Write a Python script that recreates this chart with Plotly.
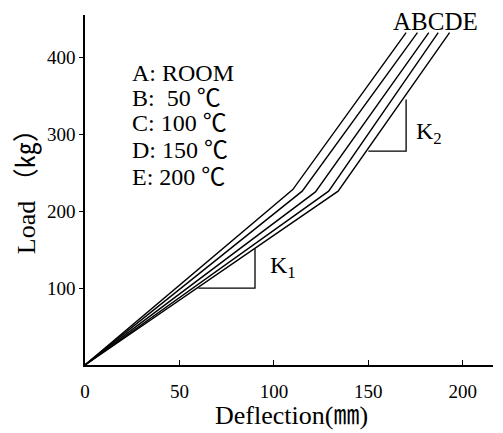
import plotly.graph_objects as go

# Data: origin -> knee -> end for each temperature
series_names = ["A", "B", "C", "D", "E"]
knee_x = [110, 115, 122, 129, 134]
knee_y = [228, 226, 225, 226, 226]
end_x = [170, 176, 182, 187, 193]
end_y = [432, 432, 432, 432, 432]

legend_lines = ["A: ROOM", "B:  50 ℃", "C: 100 ℃", "D: 150 ℃", "E: 200 ℃"]
legend_y = [380, 347, 314, 280, 245]

x_ticks = [0, 50, 100, 150, 200]
y_ticks = [100, 200, 300, 400]

# slope triangles
k1_x = [60, 90, 90]
k1_y = [100, 100, 151]
k2_x = [150, 170, 170]
k2_y = [278, 278, 345]

FONT = "'Liberation Serif', 'Times New Roman', 'Noto Sans CJK JP', serif"

fig = go.Figure()
for name, kx, ky, ex, ey in zip(series_names, knee_x, knee_y, end_x, end_y):
    fig.add_trace(go.Scatter(x=[0, kx, ex], y=[0, ky, ey], mode="lines",
                             line=dict(color="black", width=1.4),
                             name=name, showlegend=False, hoverinfo="skip"))
for tx, ty in ((k1_x, k1_y), (k2_x, k2_y)):
    fig.add_trace(go.Scatter(x=tx, y=ty, mode="lines",
                             line=dict(color="black", width=1.3),
                             showlegend=False, hoverinfo="skip"))

annotations = []
for txt, yy in zip(legend_lines, legend_y):
    annotations.append(dict(x=24, y=yy, xref="x", yref="y", text=txt,
                            showarrow=False, xanchor="left", yanchor="middle",
                            font=dict(family=FONT, size=24, color="black")))
annotations.append(dict(x=185.5, y=447, xref="x", yref="y", text="".join(series_names),
                        showarrow=False, xanchor="center", yanchor="middle",
                        font=dict(family=FONT, size=25, color="black")))
annotations.append(dict(x=97, y=128, xref="x", yref="y", text="K<sub>1</sub>",
                        showarrow=False, xanchor="left", yanchor="middle",
                        font=dict(family=FONT, size=24, color="black")))
annotations.append(dict(x=174, y=302, xref="x", yref="y", text="K<sub>2</sub>",
                        showarrow=False, xanchor="left", yanchor="middle",
                        font=dict(family=FONT, size=24, color="black")))
# axis titles
annotations.append(dict(x=0.507, y=-0.191, xref="paper", yref="paper",
                        text="Deflection(㎜)", showarrow=False,
                        xanchor="center", yanchor="bottom",
                        font=dict(family=FONT, size=26, color="black")))
annotations.append(dict(x=-0.142, y=0.514, xref="paper", yref="paper",
                        text="Load （㎏）", showarrow=False, textangle=-90,
                        xanchor="center", yanchor="middle",
                        font=dict(family=FONT, size=26, color="black")))

fig.update_layout(
    width=503, height=433,
    margin=dict(l=85, r=10, t=15, b=68),
    paper_bgcolor="white", plot_bgcolor="white",
    font=dict(family=FONT, color="black"),
    annotations=annotations,
    xaxis=dict(range=[0, 216], tickvals=x_ticks, ticks="inside", ticklen=5,
               tickcolor="black", showline=True, linecolor="black", linewidth=1.5,
               showgrid=False, zeroline=False, ticklabelstandoff=8,
               automargin=False,
               tickfont=dict(family=FONT, size=19, color="black")),
    yaxis=dict(range=[0, 455], tickvals=y_ticks, ticks="outside", ticklen=4,
               tickcolor="black", showline=True, linecolor="black", linewidth=1.5,
               showgrid=False, zeroline=False, automargin=False,
               tickfont=dict(family=FONT, size=19, color="black")),
)

fig.write_html("out.html", config={"displayModeBar": False})

# remove the default page margin so the figure fills the window exactly
with open("out.html", "r", encoding="utf-8") as f:
    html = f.read()
html = html.replace("<head>", "<head><style>html,body{margin:0;padding:0;overflow:hidden;}</style>", 1)
with open("out.html", "w", encoding="utf-8") as f:
    f.write(html)
